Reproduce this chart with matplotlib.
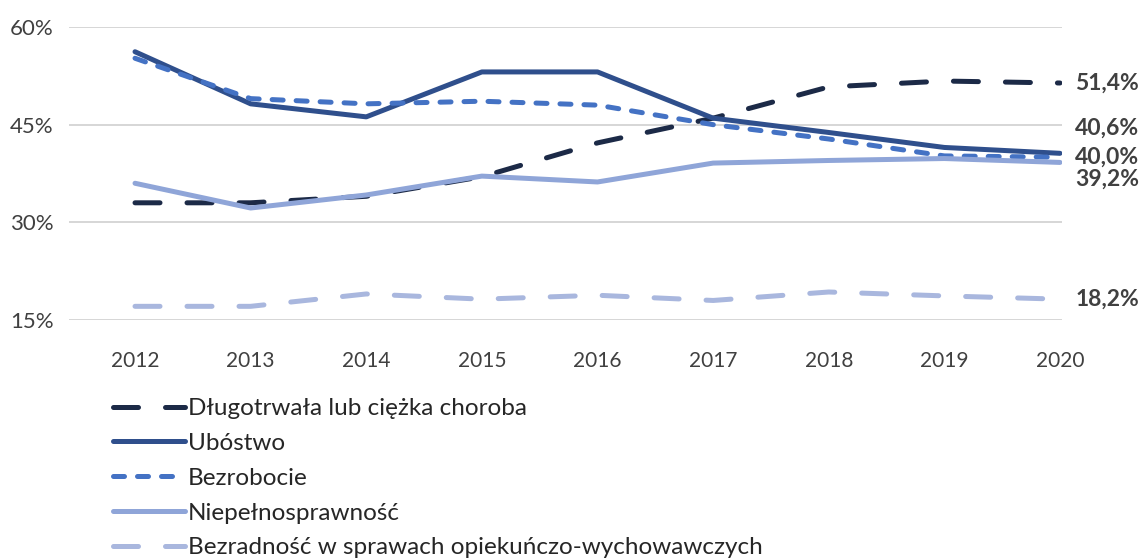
import matplotlib
matplotlib.use("Agg")
import matplotlib.pyplot as plt
from matplotlib.ticker import FuncFormatter

years = [2012, 2013, 2014, 2015, 2016, 2017, 2018, 2019, 2020]
dlugotrwala = [33.0, 33.0, 34.0, 37.0, 42.2, 46.0, 50.8, 51.7, 51.4]
ubostwo = [56.2, 48.2, 46.2, 53.1, 53.1, 46.0, 43.8, 41.5, 40.6]
bezrobocie = [55.2, 49.0, 48.2, 48.6, 48.0, 45.0, 42.8, 40.2, 40.0]
niepelnosprawnosc = [36.0, 32.2, 34.2, 37.1, 36.2, 39.1, 39.5, 39.8, 39.2]
bezradnosc = [17.1, 17.1, 19.0, 18.2, 18.8, 18.0, 19.3, 18.7, 18.2]

labels = ["Długotrwała lub ciężka choroba", "Ubóstwo", "Bezrobocie",
          "Niepełnosprawność", "Bezradność w sprawach opiekuńczo-wychowawczych"]
yticks = [15, 30, 45, 60]

series = [dlugotrwala, ubostwo, bezrobocie, niepelnosprawnosc, bezradnosc]
colors = ["#1c2a47", "#2f4f8c", "#4472c4", "#8fa5d8", "#a9b7de"]
dashes = [(5.0, 5.4), None, (2.2, 2.6), None, (5.0, 5.4)]
label_offsets = [0, 18, 0, -12, 0]  # points, vertical shift of end labels

plt.rcParams['font.family'] = ['Lato', 'DejaVu Sans']

fig = plt.figure(figsize=(11.44, 5.59), dpi=100)
ax = fig.add_axes([69/1144, 1-320/559, (1062-69)/1144, (320-27)/559])

lw = 3.6
for vals, lab, c, d in zip(series, labels, colors, dashes):
    line, = ax.plot(years, vals, color=c, lw=lw, label=lab,
                    solid_capstyle='round', dash_capstyle='round', zorder=3)
    if d is not None:
        line.set_dashes(d)

for vals, c, off in zip(series, colors, label_offsets):
    txt = f"{vals[-1]:.1f}%".replace('.', ',')
    ax.annotate(txt, (years[-1], vals[-1]), xytext=(11, off), textcoords='offset points',
                ha='left', va='center', fontsize=16.5, fontweight='bold', color='#404040',
                annotation_clip=False)

ax.set_ylim(15, 60)
ax.set_xlim(2012 - 66/115.6, 2020 + 2/115.6)
ax.set_yticks(yticks)
ax.yaxis.set_major_formatter(FuncFormatter(lambda v, p: f"{v:.0f}%"))
ax.set_xticks(years)
ax.grid(axis='y', color='#d0d0d0', lw=1.2, zorder=0)
ax.grid(axis='x', visible=False)
for s in ['left', 'right', 'top', 'bottom']:
    ax.spines[s].set_visible(False)
ax.tick_params(axis='both', length=0, labelcolor='#404040')
ax.tick_params(axis='x', labelsize=15, pad=22)
ax.tick_params(axis='y', labelsize=16, pad=11)

leg = fig.legend(loc='upper left', bbox_to_anchor=(113/1144, 1-398/559), frameon=False,
                 fontsize=17.5, handlelength=2.95, handletextpad=0.12, labelspacing=0.57,
                 borderpad=0, borderaxespad=0)
for t in leg.get_texts():
    t.set_color('#262626')

fig.savefig("out.png", dpi=100)
